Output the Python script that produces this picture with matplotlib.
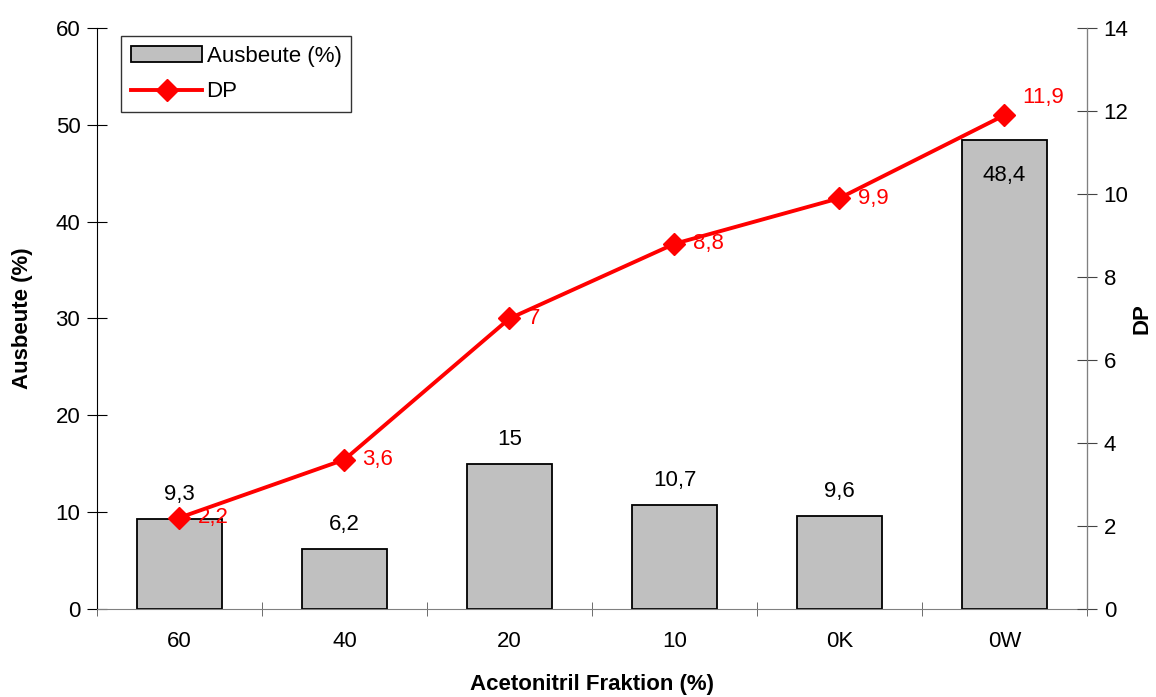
import matplotlib
matplotlib.use('Agg')
import matplotlib.pyplot as plt
import numpy as np

plt.rcParams['font.family'] = ['Liberation Sans', 'DejaVu Sans']

categories = ['60', '40', '20', '10', '0K', '0W']
ausbeute = [9.3, 6.2, 15, 10.7, 9.6, 48.4]
dp = [2.2, 3.6, 7, 8.8, 9.9, 11.9]
ausbeute_labels = ['9,3', '6,2', '15', '10,7', '9,6', '48,4']
dp_labels = ['2,2', '3,6', '7', '8,8', '9,9', '11,9']

FS = 16
x = np.arange(len(categories))

fig = plt.figure(figsize=(11.56, 6.97), dpi=100)
ax = fig.add_axes([0.0839, 0.1263, 0.8564, 0.8335])
ax2 = ax.twinx()

bars = ax.bar(x, ausbeute, width=0.51, color='#c0c0c0', edgecolor='black',
              linewidth=1.3, label='Ausbeute (%)', zorder=2)
line, = ax2.plot(x, dp, color='#ff0000', linewidth=2.8, marker='D',
                 markersize=11, label='DP', zorder=3)

ax.set_xlim(-0.5, len(categories) - 0.5)
ax.set_ylim(0, 60)
ax2.set_ylim(0, 14)
ax.set_yticks(np.arange(0, 61, 10))
ax2.set_yticks(np.arange(0, 15, 2))
ax.set_xticks(x)
ax.set_xticklabels(categories)
ax.set_xticks(np.arange(-0.5, len(categories)), minor=True)
ax.tick_params(axis='x', which='major', length=0, pad=16, labelsize=FS)
ax.tick_params(axis='x', which='minor', length=10, direction='inout', color='#555555')
ax.tick_params(axis='y', direction='inout', length=14, labelsize=FS, pad=5)
ax2.tick_params(axis='y', direction='inout', length=14, labelsize=FS, pad=5,
                color='#444444')

for a in (ax, ax2):
    a.spines['top'].set_visible(False)
ax.spines['bottom'].set_color('#808080')
ax.spines['left'].set_color('black')
ax2.spines['right'].set_color('#808080')
ax2.spines['left'].set_visible(False)
ax2.spines['bottom'].set_visible(False)

ax.set_xlabel('Acetonitril Fraktion (%)', fontsize=FS, fontweight='bold', labelpad=16)
ax.set_ylabel('Ausbeute (%)', fontsize=FS, fontweight='bold', labelpad=16)
ax2.set_ylabel('DP', fontsize=FS, fontweight='bold', labelpad=2)

# bar value labels
for xi, v, lab in zip(x, ausbeute, ausbeute_labels):
    if v > 40:
        ax.annotate(lab, (xi, v), xytext=(0, -33), textcoords='offset points',
                    ha='center', va='bottom', fontsize=FS)
    else:
        ax.annotate(lab, (xi, v), xytext=(0, 10), textcoords='offset points',
                    ha='center', va='bottom', fontsize=FS)

# DP labels (last one sits a little higher, as in the original)
for i, (xi, v, lab) in enumerate(zip(x, dp, dp_labels)):
    dy = 13 if i == len(dp) - 1 else 0
    ax2.annotate(lab, (xi, v), xytext=(13, dy), textcoords='offset points',
                 ha='left', va='center', fontsize=FS, color='#ff0000')

leg = fig.legend([bars, line], ['Ausbeute (%)', 'DP'], loc='upper left',
                 bbox_to_anchor=(121 / 1156, 1 - 36 / 697), fontsize=FS,
                 frameon=True, fancybox=False, edgecolor='black',
                 borderpad=0.45, handlelength=3.2, labelspacing=0.65,
                 handletextpad=0.2, borderaxespad=0)
leg.get_frame().set_linewidth(1.0)

fig.savefig('out.png', dpi=100, facecolor='white')
plt.close(fig)
